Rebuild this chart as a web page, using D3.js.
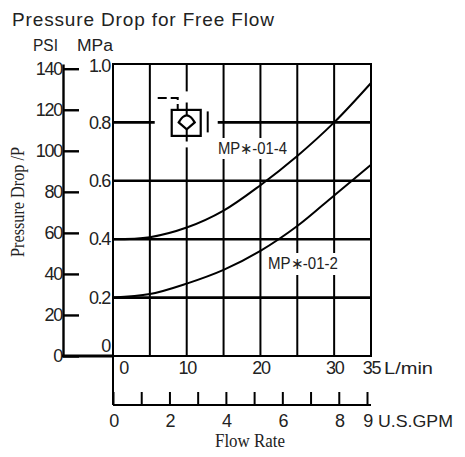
<!DOCTYPE html>
<html>
<head>
<meta charset="utf-8">
<script src="https://cdn.jsdelivr.net/npm/d3@7"></script>
<style>
  body { margin: 0; background: #fff; }
  svg { display: block; }
  .lbl { font-family: "Liberation Sans", Arial, sans-serif; fill: #222; }
  .serif { font-family: "Liberation Serif", "Times New Roman", serif; fill: #222; }
</style>
</head>
<body>
<div id="chart"></div>
<script>

// flow rate points (L/min) and pressure drop (MPa)
const flowLmin = [0, 5, 10, 15, 20, 25, 30, 35];
const dropMP014 = [0.40, 0.407, 0.44, 0.498, 0.585, 0.685, 0.80, 0.935];
const dropMP012 = [0.20, 0.212, 0.248, 0.295, 0.36, 0.445, 0.55, 0.655];

// axis ticks
const lminLabels = [0, 10, 20, 30, 35];
const gridFlow = [5, 10, 15, 20, 25, 30];
const gridMpa = [0.2, 0.4, 0.6, 0.8];
const mpaTicks = [0, 0.2, 0.4, 0.6, 0.8, 1.0];
const psiTicks = [0, 20, 40, 60, 80, 100, 120, 140];
const gpmTicks = [0, 1, 2, 3, 4, 5, 6, 7, 8, 9];
const gpmLabels = [0, 2, 4, 6, 8, 9];

const W = 465, H = 457;

const svg = d3.select('#chart')
    .append('svg')
    .attr('width', W)
    .attr('height', H);

// scales
let x = d3.scaleLinear().domain([0, 35]).range([113, 371]);
let y = d3.scaleLinear().domain([0, 1]).range([356, 64]);
let psi = d3.scaleLinear().domain([0, 142.3]).range([356, 64]);
let gpm = d3.scaleLinear().domain([0, 9]).range([113, 367]);

// title
svg.append('text')
    .attr('class', 'lbl')
    .attr('x', 12).attr('y', 26)
    .attr('font-size', 19)
    .attr('textLength', 262)
    .text('Pressure Drop for Free Flow');

svg.append('text').attr('class', 'lbl')
    .attr('x', 33).attr('y', 51).attr('font-size', 16)
    .attr('textLength', 25).attr('lengthAdjust', 'spacingAndGlyphs')
    .text('PSI');
svg.append('text').attr('class', 'lbl')
    .attr('x', 77).attr('y', 51).attr('font-size', 16)
    .attr('textLength', 36).attr('lengthAdjust', 'spacingAndGlyphs')
    .text('MPa');

// grid lines
svg.selectAll('.vgrid')
    .data(gridFlow).enter()
    .append('line')
    .attr('x1', d => x(d)).attr('x2', d => x(d))
    .attr('y1', y(0)).attr('y2', y(1))
    .attr('stroke', '#000').attr('stroke-width', 2);

svg.selectAll('.hgrid')
    .data(gridMpa).enter()
    .append('line')
    .attr('x1', x(0)).attr('x2', x(35))
    .attr('y1', d => y(d)).attr('y2', d => y(d))
    .attr('stroke', '#000').attr('stroke-width', 2.6);

// frame
svg.append('rect')
    .attr('x', x(0)).attr('y', y(1))
    .attr('width', x(35) - x(0)).attr('height', y(0) - y(1))
    .attr('fill', 'none').attr('stroke', '#000').attr('stroke-width', 2);

// white boxes behind the curve labels
const curveLabels = [
    {text: 'MP\u2217-01-4', x: 218, y: 154, len: 69, box: [216, 138, 76, 21]},
    {text: 'MP\u2217-01-2', x: 268, y: 269, len: 70, box: [265, 253, 76, 22]}
];
svg.selectAll('.lblbox')
    .data(curveLabels).enter()
    .append('rect')
    .attr('x', d => d.box[0]).attr('y', d => d.box[1])
    .attr('width', d => d.box[2]).attr('height', d => d.box[3])
    .attr('fill', '#fff');

// curves
let line = d3.line()
    .x((d, i) => x(flowLmin[i]))
    .y(d => y(d))
    .curve(d3.curveCatmullRom.alpha(0.5));

[dropMP014, dropMP012].forEach(s => {
    svg.append('path')
        .datum(s)
        .attr('d', line)
        .attr('fill', 'none')
        .attr('stroke', '#000')
        .attr('stroke-width', 2);
});

svg.selectAll('.clbl')
    .data(curveLabels).enter()
    .append('text')
    .attr('class', 'lbl')
    .attr('x', d => d.x).attr('y', d => d.y)
    .attr('font-size', 16)
    .attr('textLength', d => d.len)
    .attr('lengthAdjust', 'spacingAndGlyphs')
    .text(d => d.text);

// check valve symbol, sitting on the 10 L/min / 0.8 MPa crossing
const sym = svg.append('g')
    .attr('transform', 'translate(' + x(10) + ',' + y(0.8) + ')');
sym.append('rect')
    .attr('x', -32).attr('y', -31).attr('width', 63).attr('height', 56)
    .attr('fill', '#fff');
sym.append('rect')
    .attr('x', -15).attr('y', -12.5).attr('width', 29).attr('height', 26)
    .attr('fill', 'none').attr('stroke', '#000').attr('stroke-width', 2.2);
sym.append('path')
    .attr('d', 'M-8,0 Q-4,-7 0,-7 Q4,-7 8,0 L0,7 Z')
    .attr('fill', 'none').attr('stroke', '#000').attr('stroke-width', 2.2);
sym.append('path')
    .attr('d', 'M0,-20 V-7 M0,7 V19')
    .attr('fill', 'none').attr('stroke', '#000').attr('stroke-width', 2);
sym.append('path')
    .attr('d', 'M-29,-24.5 H-9 V-12.5')
    .attr('fill', 'none').attr('stroke', '#000').attr('stroke-width', 2)
    .attr('stroke-dasharray', '9,4');
sym.append('line')
    .attr('x1', 21).attr('x2', 21).attr('y1', -11).attr('y2', 10)
    .attr('stroke', '#000').attr('stroke-width', 2);

// digits in the reference are tall and narrow
function narrow(sel) {
    sel.attr('class', 'lbl')
        .attr('font-size', 18)
        .attr('letter-spacing', -1.3);
}

// PSI axis, ticks pointing into the chart
let psiAxis = svg.append('g')
    .attr('transform', 'translate(63,0)')
    .call(d3.axisLeft(psi).tickValues(psiTicks).tickSize(-16).tickSizeOuter(0).tickPadding(1));
psiAxis.select('.domain').attr('stroke-width', 2.4);
psiAxis.selectAll('.tick line').attr('stroke-width', 2.4);
psiAxis.selectAll('text').call(narrow);

// base line joining PSI zero to the chart
svg.append('line')
    .attr('x1', 62).attr('x2', x(0))
    .attr('y1', y(0)).attr('y2', y(0))
    .attr('stroke', '#000').attr('stroke-width', 3);

// MPa labels
let mpaAxis = svg.append('g')
    .attr('transform', 'translate(' + x(0) + ',0)')
    .call(d3.axisLeft(y).tickValues(mpaTicks).tickSize(0).tickPadding(3)
        .tickFormat(d => d === 0 ? '0' : d3.format('.1f')(d)));
mpaAxis.select('.domain').remove();
mpaAxis.selectAll('text').call(narrow);
mpaAxis.selectAll('text')
    .attr('dy', d => d === 0 ? '-0.25em' : (d === 1 ? '0.42em' : '0.32em'));

// L/min labels under the chart
let lminAxis = svg.append('g')
    .attr('transform', 'translate(0,' + y(0) + ')')
    .call(d3.axisBottom(x).tickValues(lminLabels).tickSize(0).tickPadding(5));
lminAxis.select('.domain').remove();
lminAxis.selectAll('text').call(narrow);
lminAxis.selectAll('text')
    .attr('x', d => d === 0 ? 10 : 0);

svg.append('text').attr('class', 'lbl')
    .attr('x', 384).attr('y', 374).attr('font-size', 17)
    .attr('textLength', 49).attr('lengthAdjust', 'spacingAndGlyphs')
    .text('L/min');

// U.S.GPM axis
const gpmY = 405;
svg.append('line')
    .attr('x1', x(0)).attr('x2', x(0))
    .attr('y1', y(0)).attr('y2', gpmY)
    .attr('stroke', '#000').attr('stroke-width', 2);
svg.append('line')
    .attr('x1', x(0)).attr('x2', x(35))
    .attr('y1', gpmY).attr('y2', gpmY)
    .attr('stroke', '#000').attr('stroke-width', 2);

let gpmAxis = svg.append('g')
    .attr('transform', 'translate(0,' + gpmY + ')')
    .call(d3.axisBottom(gpm).tickValues(gpmTicks).tickSize(-13).tickPadding(9)
        .tickFormat(d => gpmLabels.includes(d) ? d : ''));
gpmAxis.select('.domain').remove();
gpmAxis.selectAll('.tick line').attr('stroke-width', 2);
gpmAxis.selectAll('text').call(narrow);

svg.append('text').attr('class', 'lbl')
    .attr('x', 378).attr('y', 427).attr('font-size', 17)
    .attr('textLength', 75).attr('lengthAdjust', 'spacingAndGlyphs')
    .text('U.S.GPM');

svg.append('text').attr('class', 'serif')
    .attr('x', 250).attr('y', 447).attr('font-size', 18)
    .attr('text-anchor', 'middle')
    .attr('textLength', 70).attr('lengthAdjust', 'spacingAndGlyphs')
    .text('Flow Rate');

// rotated pressure title
svg.append('text').attr('class', 'serif')
    .attr('transform', 'translate(24,202) rotate(-90)')
    .attr('font-size', 19)
    .attr('text-anchor', 'middle')
    .attr('textLength', 110).attr('lengthAdjust', 'spacingAndGlyphs')
    .text('Pressure Drop /P');

</script>
</body>
</html>
